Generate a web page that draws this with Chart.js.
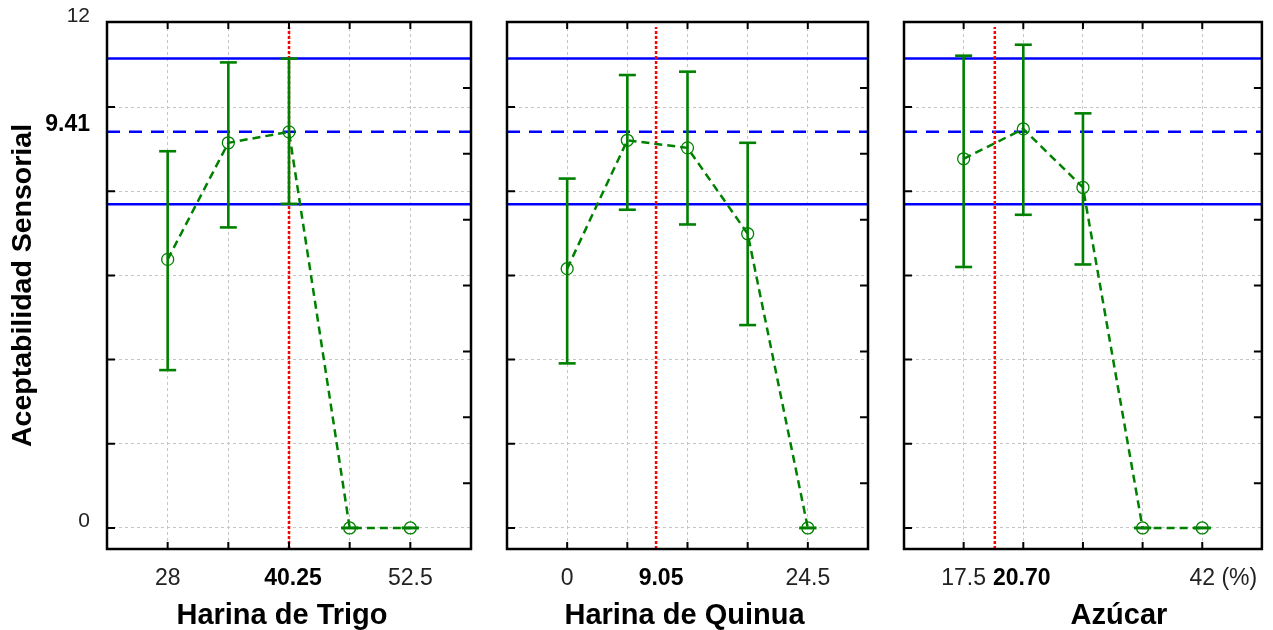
<!DOCTYPE html>
<html><head><meta charset="utf-8">
<script src="https://cdn.jsdelivr.net/npm/chart.js@4.4.1/dist/chart.umd.min.js"></script>
<style>
html,body{margin:0;padding:0;background:#fff;}
#wrap{position:relative;width:1273px;height:630px;overflow:hidden;background:#fff;}
canvas{position:absolute;left:0;top:0;}
</style></head><body>
<div id="wrap">
<canvas id="c1" width="1273" height="630"></canvas>
<canvas id="c2" width="1273" height="630"></canvas>
<canvas id="c3" width="1273" height="630"></canvas>
</div>
<script>
// ---- data ----
const yAxisTitle = 'Aceptabilidad Sensorial';
const yTickValues = [0, 2, 4, 6, 8, 9.41, 10, 12];
const yLabelValues = [0, 9.41, 12];
const predicted = 9.41;
const ciUpper = 11.15;
const ciLower = 7.69;

const trigoLevels = [28, 34.125, 40.25, 46.375, 52.5];
const trigoMean = [6.38, 9.15, 9.41, 0, 0];
const trigoLow  = [3.75, 7.14, 7.70, 0, 0];
const trigoHigh = [8.95, 11.06, 11.15, 0, 0];
const trigoOpt = 40.25;

const quinuaLevels = [0, 6.125, 12.25, 18.375, 24.5];
const quinuaMean = [6.16, 9.21, 9.03, 6.99, 0];
const quinuaLow  = [3.91, 7.56, 7.21, 4.82, 0];
const quinuaHigh = [8.30, 10.76, 10.84, 9.15, 0];
const quinuaOpt = 9.05;

const azucarLevels = [17.5, 23.625, 29.75, 35.875, 42];
const azucarMean = [8.77, 9.48, 8.09, 0, 0];
const azucarLow  = [6.20, 7.44, 6.26, 0, 0];
const azucarHigh = [11.22, 11.48, 9.85, 0, 0];
const azucarOpt = 20.70;

const xTitles = ['Harina de Trigo', 'Harina de Quinua', 'Azúcar'];
const optLabels = ['40.25', '9.05', '20.70'];
const xUnit = '(%)';

// ---- style / layout ----
const FAM = '"Liberation Sans", Arial, Helvetica, sans-serif';
const GREEN = '#008000';
const GRID = '#c4c4c4';
const TICK_SIZE = 23;
const TICK_PAD = 16;
Chart.defaults.font.family = FAM;

const layouts = [
  {padL: 0,   yW: 107, padR: 802, optDx: 4,  titleDx: -7},
  {padL: 507, yW: 0,   padR: 405, optDx: 5,  titleDx: -3},
  {padL: 904, yW: 0,   padR: 7,   optDx: 27, titleDx: 36}
];

function noPad(s) { s.paddingTop = 0; s.paddingBottom = 0; s.paddingLeft = 0; s.paddingRight = 0; }

const deco = {
  id: 'deco',
  afterDraw(chart, args, o) {
    const {ctx, chartArea: a, scales} = chart;
    const x = scales.x, y = scales.y, y2 = scales.y2;
    ctx.save();
    ctx.setLineDash([]);
    ctx.strokeStyle = '#000';
    ctx.lineWidth = 2;
    ctx.beginPath();
    x.ticks.forEach(t => {
      const px = x.getPixelForValue(t.value);
      ctx.moveTo(px, a.top); ctx.lineTo(px, a.top + 7);
      ctx.moveTo(px, a.bottom); ctx.lineTo(px, a.bottom - 7);
    });
    y.ticks.forEach(t => {
      if (t.value === predicted || t.value === 12) return;
      const py = y.getPixelForValue(t.value);
      ctx.moveTo(a.left, py); ctx.lineTo(a.left + 8, py);
    });
    y2.ticks.forEach(t => {
      if (t.value <= y2.min || t.value >= y2.max) return;
      const py = y2.getPixelForValue(t.value);
      ctx.moveTo(a.right, py); ctx.lineTo(a.right - 8, py);
    });
    ctx.stroke();
    ctx.lineWidth = 2.5;
    ctx.strokeRect(a.left, a.top, a.right - a.left, a.bottom - a.top);

    const labelY = a.bottom + TICK_PAD + TICK_SIZE * 1.2 / 2;
    ctx.textBaseline = 'middle';
    ctx.textAlign = 'center';
    ctx.fillStyle = '#000';
    ctx.font = 'bold ' + TICK_SIZE + 'px ' + FAM;
    ctx.fillText(o.optLabel, x.getPixelForValue(o.opt) + o.optDx, labelY);

    if (o.suffix) {
      ctx.font = TICK_SIZE + 'px ' + FAM;
      ctx.fillStyle = '#222';
      const w = ctx.measureText(o.lastLabel).width;
      const sp = ctx.measureText(' ').width;
      ctx.textAlign = 'left';
      ctx.fillText(o.suffix, x.getPixelForValue(o.lastValue) + w / 2 + sp, labelY);
    }

    ctx.textAlign = 'center';
    ctx.fillStyle = '#000';
    ctx.font = 'bold 29px ' + FAM;
    ctx.fillText(o.title, (a.left + a.right) / 2 + o.titleDx, 615.5);
    ctx.restore();
  }
};

function makeChart(id, i, levels, mean, low, high, opt) {
  const L = layouts[i];
  const step = (levels[levels.length - 1] - levels[0]) / (levels.length - 1);
  const xmin = levels[0] - step, xmax = levels[levels.length - 1] + step;
  const errData = [];
  levels.forEach((v, k) => { errData.push({x: v, y: low[k]}, {x: v, y: high[k]}, {x: v, y: null}); });
  const hline = (val) => [{x: xmin, y: val}, {x: xmax, y: val}];
  const lastIdx = levels.length - 1;

  return new Chart(document.getElementById(id), {
    type: 'line',
    data: {
      datasets: [
        {data: levels.map((v, k) => ({x: v, y: mean[k]})), xAxisID: 'x', yAxisID: 'y',
         borderColor: GREEN, borderWidth: 2.5, borderDash: [8, 5], tension: 0, fill: false,
         pointStyle: 'circle', pointRadius: 6, pointBorderWidth: 1.3,
         pointBorderColor: GREEN, pointBackgroundColor: 'rgba(0,0,0,0)'},
        {data: errData, xAxisID: 'x', yAxisID: 'y', borderColor: GREEN, borderWidth: 2.6,
         spanGaps: false, pointStyle: 'line', pointRadius: 8.5, pointBorderWidth: 2.6,
         pointBorderColor: GREEN},
        {data: [{x: opt, y: -0.5}, {x: opt, y: 11.9}], xAxisID: 'x', yAxisID: 'y',
         borderColor: '#ff0000', borderWidth: 2.5, borderDash: [3, 2], pointRadius: 0},
        {data: hline(ciUpper), xAxisID: 'x', yAxisID: 'y', borderColor: '#0000ff', borderWidth: 2.5, pointRadius: 0},
        {data: hline(ciLower), xAxisID: 'x', yAxisID: 'y', borderColor: '#0000ff', borderWidth: 2.5, pointRadius: 0},
        {data: hline(predicted), xAxisID: 'x', yAxisID: 'y', borderColor: '#0000ff', borderWidth: 2.5,
         borderDash: [13, 9], pointRadius: 0}
      ]
    },
    options: {
      responsive: false,
      animation: false,
      events: [],
      layout: {padding: {left: L.padL, right: L.padR, top: 22, bottom: 0}},
      plugins: {
        legend: {display: false},
        tooltip: {enabled: false},
        deco: {opt: opt, optLabel: optLabels[i], optDx: L.optDx, title: xTitles[i], titleDx: L.titleDx,
               suffix: i === 2 ? xUnit : '', lastLabel: String(levels[lastIdx]), lastValue: levels[lastIdx]}
      },
      scales: {
        x: {
          type: 'linear', position: 'bottom', min: xmin, max: xmax,
          afterBuildTicks: s => { s.ticks = levels.map(v => ({value: v})); },
          afterFit: s => { s.height = 81; noPad(s); },
          ticks: {autoSkip: false, maxRotation: 0, minRotation: 0, padding: TICK_PAD, color: '#222',
                  font: {family: FAM, size: TICK_SIZE},
                  callback: (v, idx) => (idx === 0 || idx === lastIdx) ? String(levels[idx]) : ''},
          grid: {color: GRID, lineWidth: 1, drawTicks: false},
          border: {display: false, dash: [3, 3]}
        },
        y: {
          type: 'linear', position: 'left', min: -0.5, max: 12.02,
          afterBuildTicks: s => { s.ticks = yTickValues.map(v => ({value: v})); },
          afterFit: s => { s.width = L.yW; noPad(s); },
          ticks: {display: i === 0, padding: 17, labelOffset: -7,
                  color: c => (c.tick && c.tick.value === predicted) ? '#000' : '#222',
                  font: c => (c.tick && c.tick.value === predicted)
                    ? {family: FAM, size: 23, weight: 'bold'} : {family: FAM, size: 21, weight: 'normal'},
                  callback: v => yLabelValues.includes(v) ? String(v) : ''},
          grid: {color: c => (c.tick && (c.tick.value === predicted || c.tick.value === 12)) ? 'rgba(0,0,0,0)' : GRID,
                 lineWidth: 1, drawTicks: false},
          border: {display: false, dash: [3, 3]},
          title: {display: i === 0, text: yAxisTitle, color: '#000',
                  font: {family: FAM, size: 28.5, weight: 'bold'}, padding: {top: 6, bottom: 0}}
        },
        y2: {
          type: 'linear', position: 'right', min: 0, max: 8,
          afterFit: s => { s.width = 0; noPad(s); },
          ticks: {display: false, stepSize: 1},
          grid: {display: false, drawTicks: false},
          border: {display: false}
        }
      }
    },
    plugins: [deco]
  });
}

makeChart('c1', 0, trigoLevels, trigoMean, trigoLow, trigoHigh, trigoOpt);
makeChart('c2', 1, quinuaLevels, quinuaMean, quinuaLow, quinuaHigh, quinuaOpt);
makeChart('c3', 2, azucarLevels, azucarMean, azucarLow, azucarHigh, azucarOpt);
</script>
</body></html>
